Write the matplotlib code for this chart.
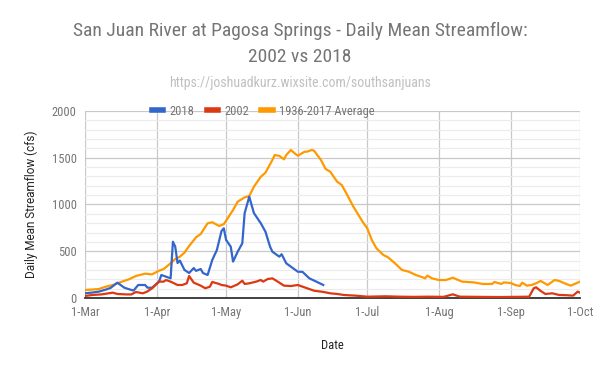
import matplotlib
matplotlib.use('Agg')

import matplotlib.pyplot as plt
import matplotlib.font_manager as fm
import pandas as pd
from matplotlib.ticker import MultipleLocator

# the reference looks squeezed sideways; use a narrow face if one is there
installed = {f.name for f in fm.fontManager.ttflist}
narrow = next((n for n in ['Roboto Condensed', 'Liberation Sans Narrow', 'Arial Narrow']
               if n in installed), None)
if narrow:
    plt.rcParams['font.family'] = [narrow, 'DejaVu Sans']
    title_fs, sub_fs, tick_fs = 14, 10, 9
else:
    plt.rcParams['font.family'] = ['Roboto', 'DejaVu Sans']
    title_fs, sub_fs, tick_fs = 12, 9, 8.3

# days after 1 March
y2018_day = [0, 3, 6, 9, 11, 14, 17, 20, 21, 23, 26, 27, 29, 32, 33, 37, 38, 39, 40, 41, 43, 45,
             47, 48, 50, 51, 53, 55, 57, 59, 60, 61, 63, 64, 66, 68, 69, 71, 73, 76, 78, 80,
             81, 84, 85, 87, 90, 92, 94, 97, 100, 103]
y2018_cfs = [50, 58, 68, 90, 107, 164, 110, 86, 80, 139, 139, 110, 110, 175, 246, 210, 602, 549,
             374, 400, 300, 267, 320, 290, 310, 267, 246, 406, 513, 716, 745, 620, 549, 389, 495,
             585, 906, 1083, 909, 799, 709, 549, 495, 442, 468, 371, 317, 281, 280, 210, 175, 139]

y2002_day = [0, 3, 7, 12, 14, 18, 20, 22, 25, 27, 29, 32, 34, 35, 37, 40, 42, 44, 45, 47, 50, 52,
             54, 55, 58, 59, 61, 63, 66, 68, 69, 71, 74, 76, 77, 79, 81, 83, 86, 89, 92, 96, 99,
             103, 106, 109, 112, 117, 122, 130, 136, 142, 148, 155, 159, 162, 170, 179, 186, 192,
             194, 195, 197, 199, 202, 205, 208, 211, 213, 214]
y2002_cfs = [21, 32, 38, 57, 43, 38, 38, 64, 50, 70, 104, 175, 175, 192, 175, 139, 139, 157, 235,
             164, 132, 104, 121, 171, 150, 139, 132, 114, 146, 185, 150, 157, 175, 192, 175, 203,
             210, 180, 132, 128, 139, 104, 78, 65, 50, 43, 32, 25, 14, 18, 14, 12, 14, 12, 39, 14,
             12, 10, 12, 14, 104, 114, 75, 43, 50, 32, 30, 25, 68, 57]

avg_day = [0, 3, 6, 9, 12, 16, 19, 22, 26, 29, 32, 34, 37, 39, 41, 43, 45, 48, 50, 53, 55, 58,
           60, 61, 64, 66, 69, 71, 73, 76, 78, 81, 82, 84, 86, 87, 89, 91, 92, 95, 96, 98, 99,
           102, 104, 106, 109, 111, 113, 116, 120, 122, 124, 126, 129, 131, 134, 137, 140, 143,
           146, 147, 148, 150, 153, 156, 159, 163, 168, 172, 176, 177, 180, 181, 184, 186, 188,
           189, 191, 193, 195, 197, 200, 203, 205, 208, 210, 214]
avg_cfs = [86, 90, 96, 121, 139, 175, 200, 235, 260, 253, 292, 310, 371, 417, 442, 485, 556, 649,
           684, 799, 810, 770, 790, 827, 941, 1030, 1076, 1090, 1190, 1297, 1340, 1476, 1529,
           1520, 1483, 1529, 1583, 1540, 1522, 1565, 1565, 1583, 1576, 1476, 1380, 1351, 1244,
           1208, 1119, 977, 816, 745, 620, 531, 460, 435, 371, 300, 281, 246, 221, 210, 239, 210,
           192, 192, 217, 175, 167, 150, 150, 171, 150, 167, 160, 139, 128, 164, 132, 139, 157,
           182, 139, 192, 182, 150, 132, 175]

month_labels = ['1-Mar', '1-Apr', '1-May', '1-Jun', '1-Jul', '1-Aug', '1-Sep', '1-Oct']

start = pd.Timestamp('2018-03-01')
def to_dates(days):
    return [start + pd.Timedelta(days=d) for d in days]

fig = plt.figure(figsize=(6, 3.71), dpi=100)
ax = fig.add_axes([0.1417, 0.1968, 0.825, 0.504])

ax.plot(to_dates(y2018_day), y2018_cfs, color='#3366cc', lw=1.6, label='2018', zorder=3)
ax.plot(to_dates(y2002_day), y2002_cfs, color='#dc3912', lw=1.6, label='2002', zorder=3)
ax.plot(to_dates(avg_day), avg_cfs, color='#ff9900', lw=1.6, label='1936-2017 Average', zorder=2)

month_ticks = pd.date_range('2018-03-01', '2018-10-01', freq='MS')
ax.set_xlim(month_ticks[0], month_ticks[-1])
ax.set_xticks(month_ticks)
ax.set_xticklabels(month_labels)
ax.set_ylim(0, 2000)
ax.yaxis.set_major_locator(MultipleLocator(500))
ax.yaxis.set_minor_locator(MultipleLocator(100))

ax.grid(True, which='major', color='#c8c8c8', lw=0.9, zorder=0)
ax.grid(True, which='minor', axis='y', color='#ebebeb', lw=0.8, zorder=0)
ax.set_axisbelow(True)
for s in ['top', 'right', 'left']:
    ax.spines[s].set_visible(False)
ax.spines['bottom'].set_color('#333333')
ax.spines['bottom'].set_linewidth(1.3)
ax.tick_params(which='both', length=0, labelsize=tick_fs, colors='#757575', pad=6)

ax.set_xlabel('Date', fontsize=tick_fs, color='#222222', labelpad=14)
ax.set_ylabel('Daily Mean Streamflow (cfs)', fontsize=8.5, color='#222222', labelpad=10,
              family=['Roboto', 'DejaVu Sans'])

leg = ax.legend(loc='center', bbox_to_anchor=(0.36, 1.0), ncol=3, frameon=False,
                fontsize=tick_fs, handlelength=0.9, columnspacing=1.0, handletextpad=0.5)
for t in leg.get_texts():
    t.set_color('#757575')
for h in leg.get_lines():
    h.set_linewidth(4)

fig.text(0.5, 0.882, 'San Juan River at Pagosa Springs - Daily Mean Streamflow:\n2002 vs 2018',
         ha='center', va='center', fontsize=title_fs, color='#757575', linespacing=1.6)
fig.text(0.5, 0.776, 'https://joshuadkurz.wixsite.com/southsanjuans', ha='center', va='center',
         fontsize=sub_fs, color='#c0c0c0')

fig.savefig('out.png', dpi=100)
